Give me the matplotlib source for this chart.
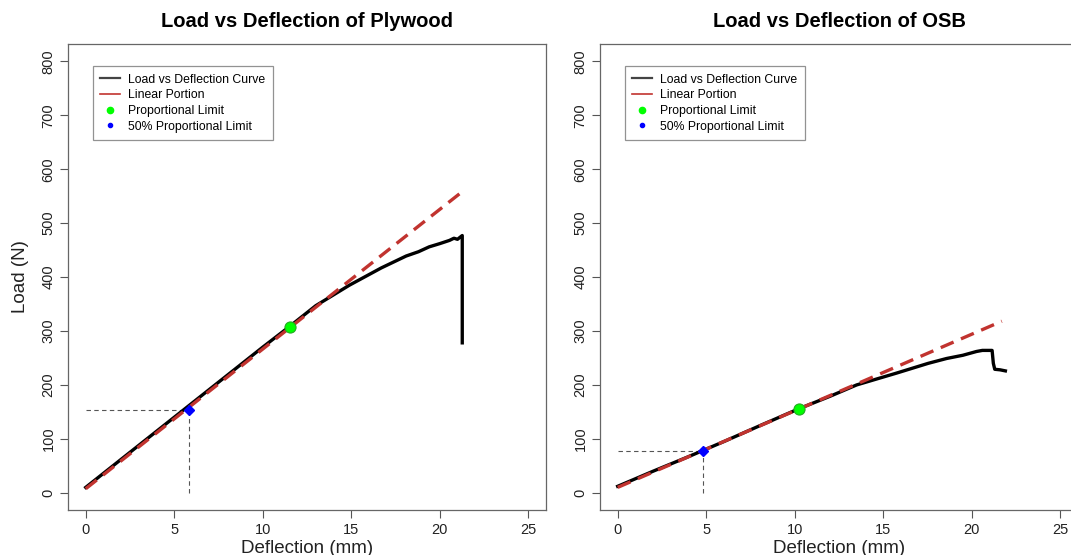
import numpy as np
import matplotlib.pyplot as plt
from matplotlib.lines import Line2D

plt.rcParams['font.family'] = ['Liberation Sans', 'DejaVu Sans']

# ---------------------------
# Data
# ---------------------------
ply_defl = [0, 2, 4, 6, 8, 10, 11.5, 13, 14.9, 16.7, 17.4, 18.1, 18.8,
            19.4, 20.0, 20.55, 20.8, 21.0, 21.27, 21.27]
ply_load = [10, 62, 114, 166, 218, 270, 308, 347, 385, 417, 428, 439, 447,
            456, 462, 468, 472, 470, 477, 278]
ply_fit = (7.5, 25.9)          # intercept, slope of linear portion
ply_fit_end = 21.3
ply_pl = (11.54, 308)          # proportional limit
ply_pl50 = (5.86, 154)         # 50% proportional limit

osb_defl = [0, 2, 4, 6, 8, 10.25, 12, 13.5, 15.76, 17.54, 18.58, 19.5,
            20.27, 20.6, 21.15, 21.22, 21.3, 21.6, 21.9]
osb_load = [12, 40, 67, 95, 124, 156, 179, 200, 222, 240, 249, 255,
            262, 264, 264, 240, 229, 228, 226]
osb_fit = (10, 14.2)
osb_fit_end = 21.7
osb_pl = (10.25, 156)
osb_pl50 = (4.8, 78)

panels = [
    ("Load vs Deflection of Plywood", ply_defl, ply_load, ply_fit, ply_fit_end, ply_pl, ply_pl50),
    ("Load vs Deflection of OSB", osb_defl, osb_load, osb_fit, osb_fit_end, osb_pl, osb_pl50),
]

fig = plt.figure(figsize=(10.71, 5.55), dpi=100)
axes = [fig.add_axes([0.0635, 0.081, 0.4463, 0.8396]),
        fig.add_axes([0.5602, 0.081, 0.4463, 0.8396])]

red = "#C1332F"

for i, (ax, (title, xs, ys, fit, fit_end, pl, pl50)) in enumerate(zip(axes, panels)):
    # dashed guides to the 50% point
    ax.plot([0, pl50[0]], [pl50[1], pl50[1]], ls=(0, (4, 3)), color="#555555", lw=0.8)
    ax.plot([pl50[0], pl50[0]], [0, pl50[1]], ls=(0, (4, 3)), color="#555555", lw=0.8)

    ax.plot(xs, ys, color="black", lw=2.4, zorder=3)
    fx = np.array([0, fit_end])
    ax.plot(fx, fit[0] + fit[1] * fx, color=red, lw=2.4, ls=(0, (4.2, 2.4)), zorder=4)

    ax.plot(*pl, "o", ms=8, mfc="#00FF00", mec="#22AA22", mew=0.8, zorder=5)
    ax.plot(*pl50, "D", ms=5.5, color="#0000FF", zorder=5)

    ax.set_xlim(-1, 26)
    ax.set_ylim(-32, 832)
    ax.set_xticks(range(0, 26, 5))
    ax.set_yticks(range(0, 801, 100))
    ax.tick_params(direction="out", length=6, width=0.8, colors="#555555",
                   labelcolor="#222222", labelsize=10.5, pad=3)
    for lab in ax.get_yticklabels():
        lab.set_rotation(90)
        lab.set_va("center")
    for s in ax.spines.values():
        s.set_color("#666666")
        s.set_linewidth(0.9)

    ax.set_title(title, fontsize=14.5, fontweight="bold", pad=12)
    ax.set_xlabel("Deflection (mm)", fontsize=13.5, color="#222222", labelpad=2.5)
    if i == 0:
        ax.set_ylabel("Load (N)", fontsize=13.5, color="#222222", labelpad=9)

    handles = [
        Line2D([], [], color="#444444", lw=1.6),
        Line2D([], [], color=red, lw=1.2),
        Line2D([], [], ls="none", marker="o", ms=4.5, color="#00FF00"),
        Line2D([], [], ls="none", marker="o", ms=3, color="#0000FF"),
    ]
    labels = ["Load vs Deflection Curve", "Linear Portion",
              "Proportional Limit", "50% Proportional Limit"]
    leg = ax.legend(handles, labels, loc="upper left", bbox_to_anchor=(0.052, 0.952),
                    fontsize=8.8, frameon=True, fancybox=False, handlelength=1.6,
                    handletextpad=0.7, labelspacing=0.3, borderpad=0.6,
                    borderaxespad=0)
    leg.get_frame().set_edgecolor("#777777")
    leg.get_frame().set_linewidth(0.9)

fig.savefig("out.png", dpi=100)
